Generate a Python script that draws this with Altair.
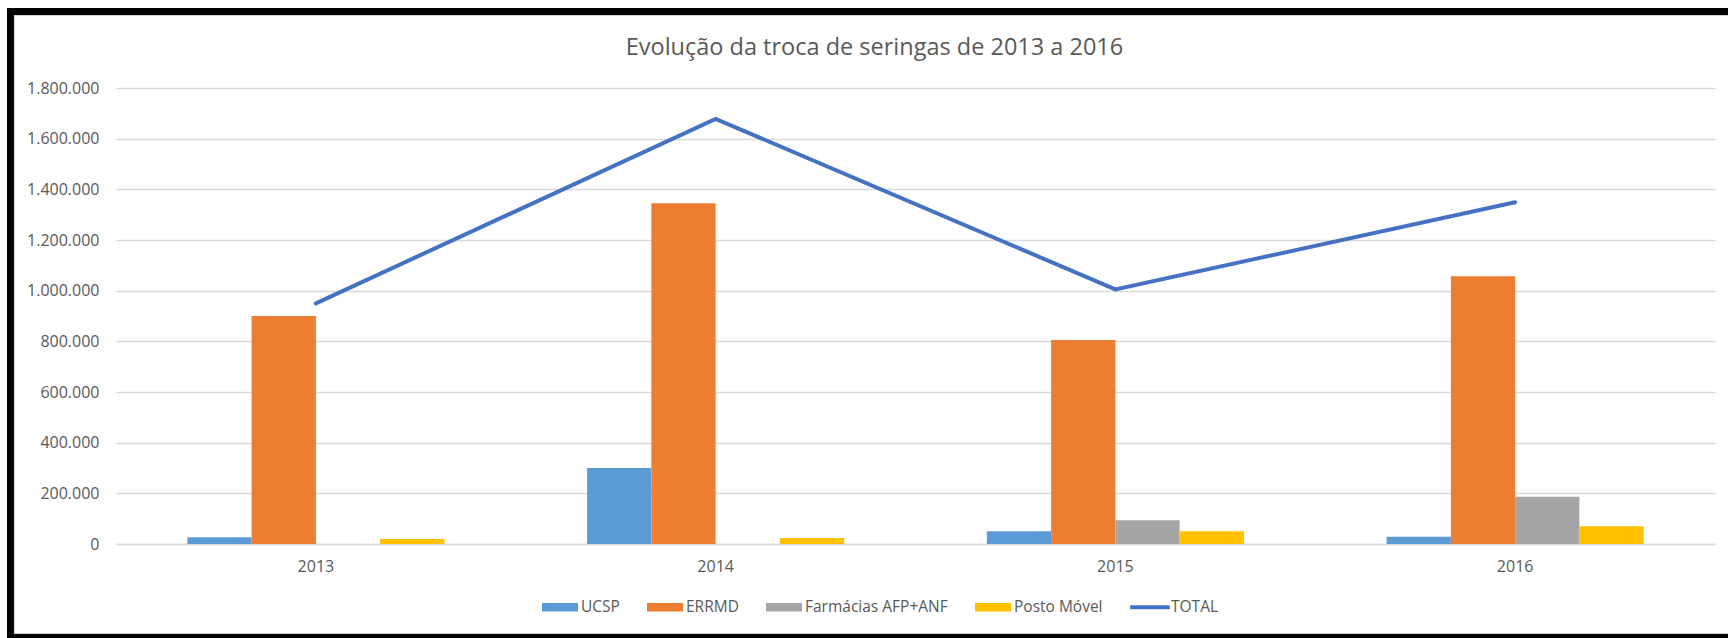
import altair as alt
import pandas as pd

years = ["2013", "2014", "2015", "2016"]
series_names = ["UCSP", "ERRMD", "Farmácias AFP+ANF", "Posto Móvel"]
ucsp = [27000, 300000, 50000, 29000]
errmd = [900000, 1345000, 805000, 1057000]
farmacias = [0, 0, 94000, 187000]
posto = [20000, 24000, 50000, 70000]
total = [950000, 1678000, 1005000, 1349000]
y_ticks = [0, 200000, 400000, 600000, 800000, 1000000, 1200000, 1400000, 1600000, 1800000]

legend_names = series_names + ["TOTAL"]
colors = ["#5B9BD5", "#ED7D31", "#A5A5A5", "#FFC000", "#4472C4"]

rows = []
for name, vals in zip(series_names, [ucsp, errmd, farmacias, posto]):
    for yr, v in zip(years, vals):
        rows.append({"ano": yr, "serie": name, "valor": v})
bars_df = pd.DataFrame(rows)
total_df = pd.DataFrame({"ano": years, "valor": total})

W, H = 1599, 456
FONT = "Open Sans"
GREY = "#595959"

x_enc = alt.X(
    "ano:N",
    sort=years,
    title=None,
    scale=alt.Scale(paddingInner=0.357, paddingOuter=0.1785),
    axis=alt.Axis(labelAngle=0, ticks=False, domainColor="#D9D9D9", domainWidth=1.3,
                  labelPadding=14, labelFontSize=16, labelColor=GREY, labelFont=FONT),
)
y_enc = alt.Y(
    "valor:Q",
    title=None,
    scale=alt.Scale(domain=[0, 1800000], nice=False),
    axis=alt.Axis(values=y_ticks, ticks=False, domain=False, gridColor="#D9D9D9", gridWidth=1.3,
                  labelPadding=17, labelFontSize=16, labelColor=GREY, labelFont=FONT,
                  labelExpr="replace(format(datum.value, ','), regexp(',', 'g'), '.')"),
)

bars = alt.Chart(bars_df).mark_bar().encode(
    x=x_enc,
    y=y_enc,
    xOffset=alt.XOffset("serie:N", sort=series_names, scale=alt.Scale(domain=series_names, paddingInner=0, paddingOuter=0)),
    color=alt.Color(
        "serie:N",
        scale=alt.Scale(domain=legend_names, range=colors),
        legend=alt.Legend(
            title=None,
            orient="none",
            direction="horizontal",
            legendX=426,
            legendY=501,
            symbolType={"expr": "datum.value == 'TOTAL' ? 'M-1.1,-0.11H1.1V0.11H-1.1Z' : 'M-1,-0.24H1V0.24H-1Z'"},
            symbolSize=1296,
            symbolStrokeWidth=0,
            symbolOpacity=1,
            labelFontSize=15.5,
            labelFont=FONT,
            labelColor=GREY,
            labelOffset=3,
            columnPadding=27,
        ),
    ),
)

line = alt.Chart(total_df).mark_line(strokeWidth=4, strokeCap="round", strokeJoin="miter", color="#4472C4").encode(
    x=alt.X("ano:N", sort=years),
    y=alt.Y("valor:Q"),
)

def hrule(x1, x2, y, color, width):
    return alt.Chart(total_df.head(1)).mark_rule(color=color, strokeWidth=width).encode(
        x=alt.value(x1), x2=alt.value(x2), y=alt.value(y))

def vrule(x, y1, y2, color, width):
    return alt.Chart(total_df.head(1)).mark_rule(color=color, strokeWidth=width).encode(
        x=alt.value(x), y=alt.value(y1), y2=alt.value(y2))

frame = [
    hrule(-109, 1640, -76.5, "black", 7),
    vrule(-105.5, -80, 560, "black", 7),
    hrule(-109, 1640, 548.5, "black", 5),
    hrule(-102, 1640, -72.5, "#D0D0D0", 1.2),
    vrule(-101.5, -72, 546, "#D0D0D0", 1.2),
    hrule(-102, 1640, 545.5, "#D0D0D0", 1.2),
]

chart = alt.layer(bars, line, *frame).properties(
    width=W,
    height=H,
    autosize=alt.AutoSizeParams(type="none"),
    padding={"left": 116, "top": 88, "right": 13, "bottom": 94},
    background="white",
    title=alt.Title(
        "Evolução da troca de seringas de 2013 a 2016",
        fontSize=23.5,
        font=FONT,
        fontWeight="normal",
        color=GREY,
        anchor="middle",
        frame="group",
        baseline="alphabetic",
        offset=-73.5,
        dx=-41,
    ),
).configure_view(stroke=None)

chart.save("out.html", embed_options={"renderer": "svg", "actions": False})
